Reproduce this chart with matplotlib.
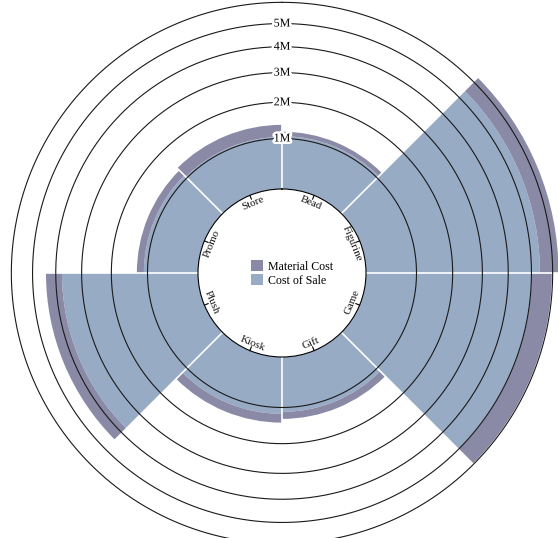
import matplotlib
matplotlib.use('Agg')
import matplotlib.pyplot as plt
import matplotlib.patheffects as pe
from matplotlib.patches import Patch
import numpy as np

# values in millions
categories = ['Bead', 'Figurine', 'Game', 'Gift', 'Kiosk', 'Plush', 'Promo', 'Store']
cost_of_sale = [1.06, 5.39, 5.01, 1.11, 1.16, 3.75, 1.09, 1.04]
material_cost = [0.11, 0.90, 0.95, 0.18, 0.23, 0.66, 0.18, 0.31]
ring_ticks = [1, 2, 3, 4, 5, 6]
tick_labels = ['1M', '2M', '3M', '4M', '5M']
series_names = ['Material Cost', 'Cost of Sale']

blue = '#98abc5'
purple = '#8a89a6'
serif = 'Liberation Serif'

W, H = 558, 538
cx, cy = 282, 273      # centre, px from top-left
r0 = 84.0              # inner radius, px
k = 11034.0            # radial scale: r^2 = r0^2 + k * v
A = np.sqrt(k)
c = r0 ** 2 / k
rmax = 6.45


def fwd(v):
    return np.sqrt(np.maximum(np.asarray(v, float) + c, 0))


def inv(u):
    return np.asarray(u, float) ** 2 - c


def px(r):
    # pixel radius -> value on the radial scale
    return (r / A) ** 2 - c


R = A * fwd(rmax)
fig = plt.figure(figsize=(W / 100, H / 100), dpi=100)
ax = fig.add_axes([(cx - R) / W, (H - cy - R) / H, 2 * R / W, 2 * R / H], projection='polar')
ax.set_theta_zero_location('N')
ax.set_theta_direction(-1)
ax.set_rscale('function', functions=(fwd, inv))
ax.set_rlim(0, rmax)
ax.set_rorigin(-c)
ax.grid(False)
ax.set_xticks([])
ax.set_yticks([])
for s in ax.spines.values():
    s.set_visible(False)
ax.patch.set_visible(False)

n = len(categories)
step = 2 * np.pi / n
mids = np.arange(n) * step + step / 2

ax.bar(mids, cost_of_sale, width=step, bottom=0, color=blue, linewidth=0, zorder=1)
ax.bar(mids, material_cost, width=step, bottom=cost_of_sale, color=purple, linewidth=0, zorder=1)

# white separators between categories
for i in range(n):
    ax.plot([i * step, i * step], [0, rmax], color='white', lw=1.2, zorder=2)

# rings
theta = np.linspace(0, 2 * np.pi, 500)
for t in ring_ticks:
    ax.plot(theta, np.full_like(theta, t), color='#1a1a1a', lw=0.8, zorder=3)
for t, lab in zip(ring_ticks, tick_labels):
    ax.text(0, t, lab, ha='center', va='center', fontsize=8.6, family=serif, zorder=4,
            path_effects=[pe.withStroke(linewidth=3.5, foreground='white')])

# category labels
for m, name in zip(mids, categories):
    ax.plot([m, m], [px(84), px(80)], color='black', lw=0.8, clip_on=False, zorder=4)
    deg = np.degrees(m)
    rot = -deg if (deg < 90 or deg > 270) else 180 - deg
    ax.text(m, px(76), name, rotation=rot, rotation_mode='anchor', ha='center', va='center',
            fontsize=7.8, family=serif, color='#111')

handles = [Patch(facecolor=purple), Patch(facecolor=blue)]
fig.legend(handles, series_names, loc='center', bbox_to_anchor=(292 / W, 1 - 273.5 / H),
           frameon=False, prop={'family': serif, 'size': 8.6}, handlelength=1.0,
           handleheight=1.05, handletextpad=0.45, labelspacing=0.15, borderpad=0)

fig.savefig('out.png', dpi=100)
